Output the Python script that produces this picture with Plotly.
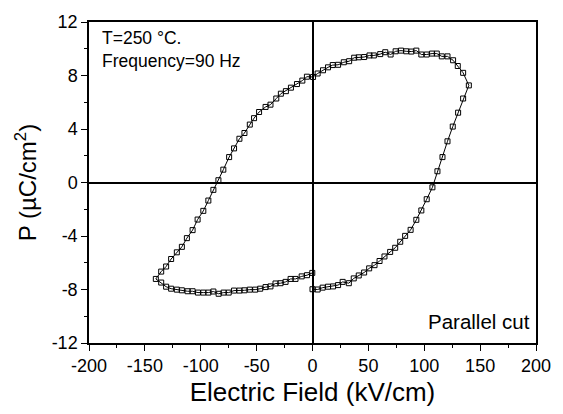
import plotly.graph_objects as go

# Hysteresis loop: E (kV/cm), P (uC/cm^2)
E_field = [0.0, 4.6, 9.1, 13.9, 18.4, 22.9, 27.0, 32.5, 36.9, 41.4, 46.2, 50.7, 55.5, 60.0, 64.4,
           69.5, 74.0, 78.5, 82.9, 87.8, 92.9, 97.4, 102.2, 107.3, 111.8, 116.3, 120.8, 125.5,
           130.3, 134.8, 139.9,
           134.8, 130.0, 125.8, 120.8, 115.7, 111.2, 107.0, 102.2, 97.4, 92.9, 88.4, 83.9, 79.2,
           74.4, 69.9, 65.1, 60.6, 54.9, 51.0, 46.2, 41.4, 37.3, 32.8, 28.0, 22.9, 18.1, 13.9,
           9.4, 4.6, 0.5, -5.0, -9.1, -13.9, -19.3, -23.8, -28.3, -32.4, -37.6, -42.0, -47.8,
           -52.3, -56.1, -60.9, -65.4, -70.2, -74.6, -79.8, -84.2, -88.7, -93.2, -97.7, -102.8,
           -107.3, -112.4, -116.9, -121.4, -126.5, -131.0, -135.4, -140.2,
           -135.4, -131.0, -126.5, -121.4, -116.9, -111.8, -107.3, -102.5, -97.7, -93.2, -88.7,
           -84.0, -79.5, -75.0, -70.2, -65.4, -60.9, -56.1, -51.3, -46.8, -42.0, -37.6, -33.1,
           -28.6, -24.1, -19.6, -15.2, -9.7, -4.9, -0.2]
P_pol = [-7.98, -8.00, -7.86, -7.79, -7.77, -7.67, -7.43, -7.53, -7.17, -6.95, -6.73, -6.42, -6.18,
         -5.87, -5.53, -5.19, -4.88, -4.43, -3.99, -3.54, -2.79, -2.09, -1.25, -0.36, 0.84, 1.90,
         3.08, 4.18, 5.22, 6.28, 7.26,
         8.20, 8.71, 9.14, 9.43, 9.43, 9.64, 9.64, 9.57, 9.57, 9.86, 9.79, 9.81, 9.86, 9.81, 9.57,
         9.74, 9.60, 9.50, 9.50, 9.38, 9.36, 9.33, 9.07, 8.99, 8.80, 8.78, 8.61, 8.39, 8.15, 7.89,
         7.91, 7.62, 7.36, 7.09, 6.83, 6.64, 6.28, 5.82, 5.65, 5.27, 4.81, 4.33, 3.70, 3.27, 2.55,
         1.90, 0.96, 0.17, -0.55, -1.35, -2.12, -2.77, -3.56, -4.16, -4.81, -5.22, -5.72, -6.28,
         -6.66, -7.21,
         -7.48, -7.79, -7.94, -8.01, -8.06, -8.13, -8.13, -8.23, -8.23, -8.23, -8.15, -8.32, -8.23,
         -8.23, -8.08, -8.08, -8.06, -8.01, -8.01, -7.94, -7.82, -7.77, -7.55, -7.53, -7.43, -7.21,
         -7.21, -7.02, -6.93, -6.76]

x_ticks = [-200, -150, -100, -50, 0, 50, 100, 150, 200]
y_ticks = [-12, -8, -4, 0, 4, 8, 12]

FONT = "Liberation Sans, Arial, Helvetica, sans-serif"

fig = go.Figure()
fig.add_trace(go.Scatter(
    x=E_field, y=P_pol, mode="lines+markers",
    line=dict(color="black", width=1),
    marker=dict(symbol="square-open", size=5, color="black", line=dict(width=1, color="black")),
    showlegend=False, hoverinfo="skip"))

axis_common = dict(
    showgrid=False, showline=True, linecolor="black", linewidth=1.5, mirror=True,
    zeroline=True, zerolinecolor="black", zerolinewidth=1.5,
    ticks="outside", ticklen=6, tickwidth=1, tickcolor="black",
    tickfont=dict(family=FONT, size=18, color="black"),
    minor=dict(ticks="outside", ticklen=3, tickwidth=1, tickcolor="black", showgrid=False),
)

fig.update_layout(
    width=563, height=414,
    margin=dict(l=89, r=25, t=16, b=63),
    paper_bgcolor="white", plot_bgcolor="white",
    font=dict(family=FONT, color="black"),
    xaxis=dict(range=[-200, 200], tickvals=x_ticks, ticktext=[str(v) for v in x_ticks],
               minor_dtick=25,
               title=dict(text="Electric Field (kV/cm)", font=dict(size=26, family=FONT), standoff=7),
               **axis_common),
    yaxis=dict(range=[-12, 12], tickvals=y_ticks, ticktext=[str(v) for v in y_ticks],
               minor_dtick=2,
               title=dict(text="P (\u00b5C/cm<sup>2</sup>)", font=dict(size=24, family=FONT), standoff=8),
               **axis_common),
    annotations=[
        dict(text="T=250 \u00b0C.", xref="paper", yref="paper", x=0.024, y=0.951,
             xanchor="left", yanchor="middle", showarrow=False, font=dict(size=17.5, family=FONT)),
        dict(text="Frequency=90 Hz", xref="paper", yref="paper", x=0.024, y=0.877,
             xanchor="left", yanchor="middle", showarrow=False, font=dict(size=17.5, family=FONT)),
        dict(text="Parallel cut", xref="paper", yref="paper", x=0.99, y=0.068,
             xanchor="right", yanchor="middle", showarrow=False, font=dict(size=20.5, family=FONT)),
    ],
)

fig.write_html("out.html")
